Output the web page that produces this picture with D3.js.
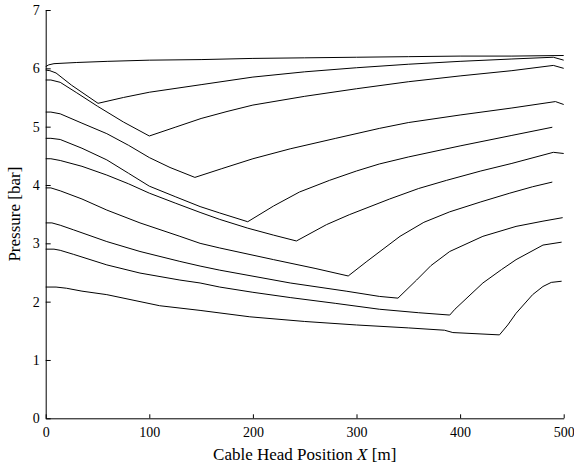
<!DOCTYPE html>
<html>
<head>
<meta charset="utf-8">
<script src="https://cdn.jsdelivr.net/npm/d3@7"></script>
<style>
  body { margin: 0; background: white; }
  svg { display: block; }
  .axis path, .axis line { stroke: black; stroke-width: 1; }
</style>
</head>
<body>
<div id="vizContainer"></div>
<script>
// pressure curves, [X (m), pressure (bar)]
let curve1 = [[0, 6.03], [3, 6.06], [8, 6.08], [30, 6.1], [60, 6.12], [100, 6.14], [150, 6.15], [200, 6.17], [250, 6.18], [300, 6.19], [350, 6.2], [400, 6.21], [450, 6.21], [500, 6.22]];
let curve2 = [[0, 5.97], [4, 5.96], [10, 5.92], [25, 5.71], [50.5, 5.4], [75, 5.5], [100, 5.59], [150, 5.72], [200, 5.85], [250, 5.94], [300, 6.01], [350, 6.07], [400, 6.12], [450, 6.16], [490, 6.19], [500, 6.14]];
let curve3 = [[0, 5.8], [5, 5.8], [14, 5.76], [30, 5.58], [50, 5.35], [75, 5.08], [100, 4.84], [125, 4.99], [150, 5.14], [175, 5.26], [200, 5.37], [250, 5.52], [300, 5.65], [350, 5.77], [400, 5.87], [450, 5.96], [490, 6.05], [500, 6.0]];
let curve4 = [[0, 5.25], [5, 5.25], [14, 5.22], [35, 5.06], [59, 4.88], [80, 4.68], [100, 4.47], [120, 4.3], [144, 4.13], [170, 4.28], [200, 4.45], [236, 4.62], [280, 4.8], [322, 4.97], [350, 5.07], [400, 5.2], [450, 5.32], [492, 5.43], [500, 5.38]];
let curve5 = [[0, 4.8], [5, 4.8], [14, 4.78], [35, 4.63], [59, 4.43], [80, 4.2], [100, 3.98], [125, 3.8], [149, 3.63], [168, 3.52], [195, 3.37], [220, 3.64], [245, 3.88], [274, 4.08], [300, 4.24], [322, 4.36], [350, 4.48], [400, 4.67], [450, 4.85], [489, 4.99]];
let curve6 = [[0, 4.45], [5, 4.45], [14, 4.42], [35, 4.32], [59, 4.17], [80, 4.02], [100, 3.86], [125, 3.69], [149, 3.53], [168, 3.41], [195, 3.26], [220, 3.14], [242, 3.04], [271, 3.32], [293, 3.49], [332, 3.76], [360, 3.94], [387, 4.08], [420, 4.24], [450, 4.37], [490, 4.56], [500, 4.54]];
let curve7 = [[0, 3.95], [5, 3.95], [14, 3.9], [35, 3.76], [59, 3.57], [91, 3.35], [129.5, 3.12], [149, 3.0], [168, 2.92], [220, 2.72], [260, 2.57], [292, 2.44], [310, 2.69], [342, 3.12], [365, 3.36], [390, 3.54], [420, 3.71], [448, 3.86], [470, 3.97], [489, 4.05]];
let curve8 = [[0, 3.35], [6, 3.35], [14, 3.31], [27, 3.23], [59, 3.03], [91, 2.86], [129.5, 2.69], [149, 2.61], [168, 2.54], [236, 2.32], [290, 2.18], [322, 2.09], [340, 2.06], [358, 2.37], [372, 2.62], [390, 2.86], [422, 3.12], [454, 3.29], [480, 3.38], [499, 3.44]];
let curve9 = [[0, 2.9], [8, 2.9], [14, 2.88], [27, 2.81], [59, 2.63], [91, 2.49], [129.5, 2.37], [149, 2.32], [168, 2.25], [200, 2.16], [236, 2.07], [280, 1.97], [322, 1.87], [360, 1.81], [390, 1.77], [395, 1.87], [422, 2.32], [440, 2.55], [454, 2.72], [480, 2.97], [498, 3.02]];
let curve10 = [[0, 2.25], [10, 2.25], [20, 2.23], [35, 2.18], [59, 2.12], [110, 1.93], [149, 1.85], [197, 1.74], [250, 1.66], [300, 1.6], [350, 1.55], [385, 1.51], [393, 1.47], [438, 1.43], [446, 1.6], [454, 1.8], [470, 2.12], [480, 2.26], [488, 2.33], [498, 2.35]];

let curves = [curve1, curve2, curve3, curve4, curve5, curve6, curve7, curve8, curve9, curve10];

let xTicks = [0, 100, 200, 300, 400, 500];
let yTicks = [0, 1, 2, 3, 4, 5, 6, 7];

let w = 574;
let h = 466;
let plotLeft = 45.7, plotRight = 563.7, plotTop = 10, plotBottom = 418.3;
let serif = "'Liberation Serif', 'Times New Roman', serif";

let viz = d3.select("#vizContainer").append("svg")
  .attr("width", w)
  .attr("height", h);

let xScale = d3.scaleLinear().domain([0, 500]).range([plotLeft, plotRight]);
let yScale = d3.scaleLinear().domain([0, 7]).range([plotBottom, plotTop]);

// axes, ticks pointing inward
viz.append("g")
  .attr("class", "axis")
  .attr("transform", "translate(0," + plotBottom + ")")
  .call(d3.axisBottom(xScale).tickValues(xTicks).tickFormat(d3.format("d"))
    .tickSizeInner(-4).tickSizeOuter(0).tickPadding(9))
  .attr("font-family", serif)
  .attr("font-size", 14);

viz.append("g")
  .attr("class", "axis")
  .attr("transform", "translate(" + plotLeft + ",0)")
  .call(d3.axisLeft(yScale).tickValues(yTicks).tickFormat(d3.format("d"))
    .tickSizeInner(-5).tickSizeOuter(0).tickPadding(6))
  .attr("font-family", serif)
  .attr("font-size", 14);

let line = d3.line()
  .x(d => xScale(d[0]))
  .y(d => yScale(d[1]));

viz.append("g").selectAll("path")
  .data(curves)
  .enter()
  .append("path")
  .attr("d", line)
  .attr("fill", "none")
  .attr("stroke", "black")
  .attr("stroke-width", 1)
  .attr("stroke-linejoin", "round");

// axis titles
let xTitle = viz.append("text")
  .attr("x", (plotLeft + plotRight) / 2)
  .attr("y", 460)
  .attr("text-anchor", "middle")
  .attr("font-family", serif)
  .attr("font-size", 17);
xTitle.append("tspan").text("Cable Head Position ");
xTitle.append("tspan").attr("font-style", "italic").text("X");
xTitle.append("tspan").text(" [m]");

viz.append("text")
  .attr("transform", "translate(20," + (plotTop + plotBottom) / 2 + ") rotate(-90)")
  .attr("text-anchor", "middle")
  .attr("font-family", serif)
  .attr("font-size", 17)
  .text("Pressure [bar]");
</script>
</body>
</html>
